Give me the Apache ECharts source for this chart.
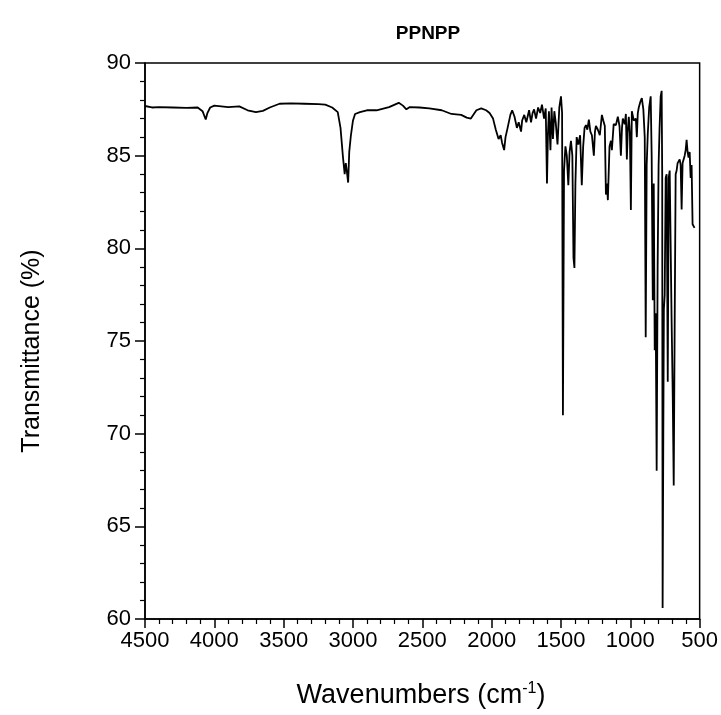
<!DOCTYPE html>
<html>
<head>
<meta charset="utf-8">
<script src="https://cdn.jsdelivr.net/npm/echarts@6/dist/echarts.min.js"></script>
<style>html,body{margin:0;padding:0;background:#fff;}#c{width:721px;height:715px;}</style>
</head>
<body>
<div id="c"></div>
<script>
const wavenumbers = [4500,4450,4400,4300,4200,4120,4085,4062,4050,4030,4000,3900,3820,3760,3700,3650,3600,3530,3450,3350,3250,3200,3150,3110,3090,3072,3060,3052,3045,3035,3027,3015,3000,2985,2950,2900,2830,2740,2670,2640,2615,2590,2520,2450,2360,2290,2220,2180,2150,2110,2075,2040,2015,1990,1970,1950,1935,1925,1910,1900,1885,1865,1852,1835,1818,1805,1788,1780,1765,1750,1730,1716,1705,1694,1680,1665,1650,1637,1622,1610,1601,1594,1587,1576,1568,1558,1548,1538,1525,1512,1500,1492,1486,1478,1468,1458,1447,1438,1428,1418,1410,1403,1396,1387,1375,1362,1350,1340,1330,1320,1310,1299,1288,1277,1263,1255,1248,1234,1220,1205,1195,1184,1176,1168,1162,1150,1140,1133,1120,1104,1090,1078,1068,1060,1054,1040,1032,1025,1018,1011,1003,996,989,975,960,953,946,939,928,917,906,896,889,882,874,864,853,846,838,831,824,817,810,803,796,789,781,774,770,767,762,758,752,745,738,730,723,716,709,702,694,687,680,673,666,659,652,644,637,630,623,615,608,601,594,587,580,572,565,558,551,544,537];
const transmittance = [87.68,87.6,87.62,87.6,87.58,87.6,87.4,86.95,87.3,87.6,87.7,87.62,87.66,87.45,87.35,87.42,87.6,87.8,87.82,87.8,87.78,87.75,87.6,87.35,86.5,84.9,84.0,84.6,84.2,83.55,85.2,86.1,86.9,87.25,87.35,87.45,87.45,87.62,87.85,87.7,87.5,87.62,87.6,87.55,87.45,87.25,87.2,87.05,87.0,87.45,87.55,87.45,87.3,87.0,86.4,85.9,86.1,85.7,85.3,86.0,86.5,87.2,87.45,87.1,86.5,86.8,86.3,86.9,87.2,86.8,87.45,86.8,87.3,87.5,87.0,87.6,87.3,87.75,87.0,87.55,83.5,86.2,87.4,85.3,87.6,85.9,87.4,86.8,85.6,87.6,88.2,87.3,71.0,84.2,85.5,85.0,83.4,85.2,85.8,85.0,79.5,78.94,83.5,86.0,85.6,86.1,83.4,85.5,86.5,86.65,86.4,86.95,86.3,86.1,85.0,86.3,86.6,86.4,86.1,87.2,86.9,86.6,82.9,83.5,82.6,85.5,85.8,85.3,86.7,86.65,87.1,86.6,85.0,86.5,87.0,86.7,87.25,84.8,86.4,87.1,86.2,82.07,87.4,86.9,87.0,86.0,87.3,87.6,87.9,88.1,87.5,86.0,75.2,84.5,86.2,87.6,88.2,85.0,77.2,83.5,74.5,76.5,68.0,79.0,84.5,86.5,88.2,88.5,84.0,60.6,70.0,76.7,77.5,83.8,84.0,72.8,83.8,84.2,84.3,76.0,72.0,67.2,76.0,84.0,84.2,84.6,84.5,84.8,84.5,82.1,84.6,84.6,85.0,85.3,85.85,85.2,84.9,85.2,83.8,84.5,81.3,81.2,81.1];
const xTickMin = 500, xTickMax = 4500, xTickStep = 500;
const yTickMin = 60, yTickMax = 90, yTickStep = 5;
const chartTitle = 'PPNPP';

const data = wavenumbers.map((w, i) => [w, transmittance[i]]);
const FONT = '"Liberation Sans", Arial, Helvetica, sans-serif';
const chart = echarts.init(document.getElementById('c'), null, {renderer: 'canvas'});
chart.setOption({
  animation: false,
  backgroundColor: '#fff',
  grid: {left: 145, right: 20, top: 63, bottom: 96, show: true, borderColor: '#000', borderWidth: 1.5, backgroundColor: 'transparent'},
  title: {
    text: chartTitle, left: 423, top: 19, textAlign: 'center',
    textStyle: {fontFamily: FONT, fontSize: 19, fontWeight: 'bold', color: '#000'}
  },
  xAxis: {
    type: 'value', min: xTickMin, max: xTickMax, interval: xTickStep, inverse: true,
    axisLine: {show: true, onZero: false, lineStyle: {color: '#000', width: 1.5}},
    axisTick: {show: true, inside: false, length: 9, lineStyle: {color: '#000', width: 1.5}},
    minorTick: {show: true, splitNumber: 5, length: 5, lineStyle: {color: '#000', width: 1.2}},
    axisLabel: {fontFamily: FONT, fontSize: 22, color: '#000', margin: 11, formatter: v => String(v)},
    splitLine: {show: false}
  },
  yAxis: {
    type: 'value', min: yTickMin, max: yTickMax, interval: yTickStep,
    axisLine: {show: true, onZero: false, lineStyle: {color: '#000', width: 1.5}},
    axisTick: {show: true, inside: false, length: 10, lineStyle: {color: '#000', width: 1.5}},
    minorTick: {show: true, splitNumber: 5, length: 5, lineStyle: {color: '#000', width: 1.2}},
    axisLabel: {fontFamily: FONT, fontSize: 22, color: '#000', margin: 14, formatter: v => String(v)},
    splitLine: {show: false}
  },
  graphic: [
    {
      type: 'text', x: 32, y: 351, rotation: Math.PI / 2,
      style: {text: 'Transmittance (%)', fontFamily: FONT, fontSize: 25, fill: '#000', align: 'center', verticalAlign: 'middle'}
    },
    {
      type: 'text', x: 421, y: 696,
      style: {
        text: '{a|Wavenumbers (cm}{s|-1}{a|)}', align: 'center', verticalAlign: 'middle',
        rich: {
          a: {fontFamily: FONT, fontSize: 27, fill: '#000', color: '#000'},
          s: {fontFamily: FONT, fontSize: 16, fill: '#000', color: '#000', verticalAlign: 'top', padding: [0, 0, 14, 0]}
        }
      }
    }
  ],
  series: [{
    type: 'line', data: data, showSymbol: false, symbol: 'none', sampling: null,
    lineStyle: {color: '#000', width: 1.8}, clip: true
  }]
});
</script>
</body>
</html>
